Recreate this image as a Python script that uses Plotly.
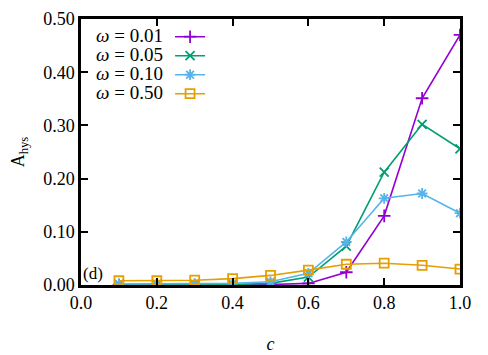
import plotly.graph_objects as go

c = [0.1, 0.2, 0.3, 0.4, 0.5, 0.6, 0.7, 0.8, 0.9, 1.0]
a_001 = [0.0, 0.0, 0.0, 0.0, 0.001, 0.003, 0.024, 0.130, 0.351, 0.470]
a_005 = [0.001, 0.001, 0.001, 0.001, 0.003, 0.015, 0.073, 0.212, 0.302, 0.256]
a_010 = [0.002, 0.002, 0.002, 0.003, 0.006, 0.022, 0.081, 0.163, 0.172, 0.135]
a_050 = [0.008, 0.008, 0.009, 0.012, 0.018, 0.028, 0.039, 0.041, 0.037, 0.030]
labels = ['ω = 0.01', 'ω = 0.05', 'ω = 0.10', 'ω = 0.50']
colors = ['#9400d3', '#009e73', '#56b4e9', '#e69f00']
symbols = ['cross-thin', 'x-thin', 'asterisk', 'square-open']
series = [a_001, a_005, a_010, a_050]

font = "'Liberation Serif', 'Times New Roman', serif"

fig = go.Figure()
for y, col, sym in zip(series, colors, symbols):
    fig.add_trace(go.Scatter(
        x=c, y=y, name='',
        mode='lines+markers',
        line=dict(color=col, width=1.6),
        marker=dict(symbol=sym, size=9, color=col,
                    line=dict(color=col, width=1.8)),
    ))

# legend labels placed left of the sample lines (gnuplot style key)
for i, lab in enumerate(labels):
    fig.add_annotation(
        x=0.222, y=0.937 - i * 0.0714, xref='paper', yref='paper',
        text=lab.replace('ω', '<i>ω</i>'), showarrow=False,
        xanchor='right', yanchor='middle',
        font=dict(family=font, size=19, color='black'),
    )

fig.add_annotation(
    x=0.0, y=0.0, xref='paper', yref='paper', text='(d)',
    showarrow=False, xanchor='left', yanchor='bottom',
    font=dict(family=font, size=17, color='black'),
)

axis = dict(
    showgrid=False, zeroline=False, showline=True, mirror='ticks',
    linecolor='black', linewidth=2.5, ticks='inside', ticklen=7,
    tickwidth=2, tickcolor='black', automargin=False,
    tickfont=dict(family=font, size=18, color='black'),
)

# page body adds an 8px margin, so the figure is 8px smaller than the window
fig.update_layout(
    width=480, height=347,
    plot_bgcolor='white', paper_bgcolor='white',
    margin=dict(l=73, r=28, t=11, b=70),
    font=dict(family=font, color='black'),
    xaxis=dict(axis, range=[0, 1.0], dtick=0.2, tickformat='.1f',
               title=dict(text='<i>c</i>', font=dict(family=font, size=18), standoff=26)),
    yaxis=dict(axis, range=[0, 0.5], dtick=0.1, tickformat='.2f',
               title=dict(text='A<sub>hys</sub>', font=dict(family=font, size=18), standoff=18)),
    legend=dict(
        x=0.235, y=0.988, xanchor='left', yanchor='top',
        bgcolor='rgba(0,0,0,0)', font=dict(family=font, size=10),
        itemwidth=30, tracegroupgap=0,
    ),
    showlegend=True,
)

fig.write_html("out.html")
